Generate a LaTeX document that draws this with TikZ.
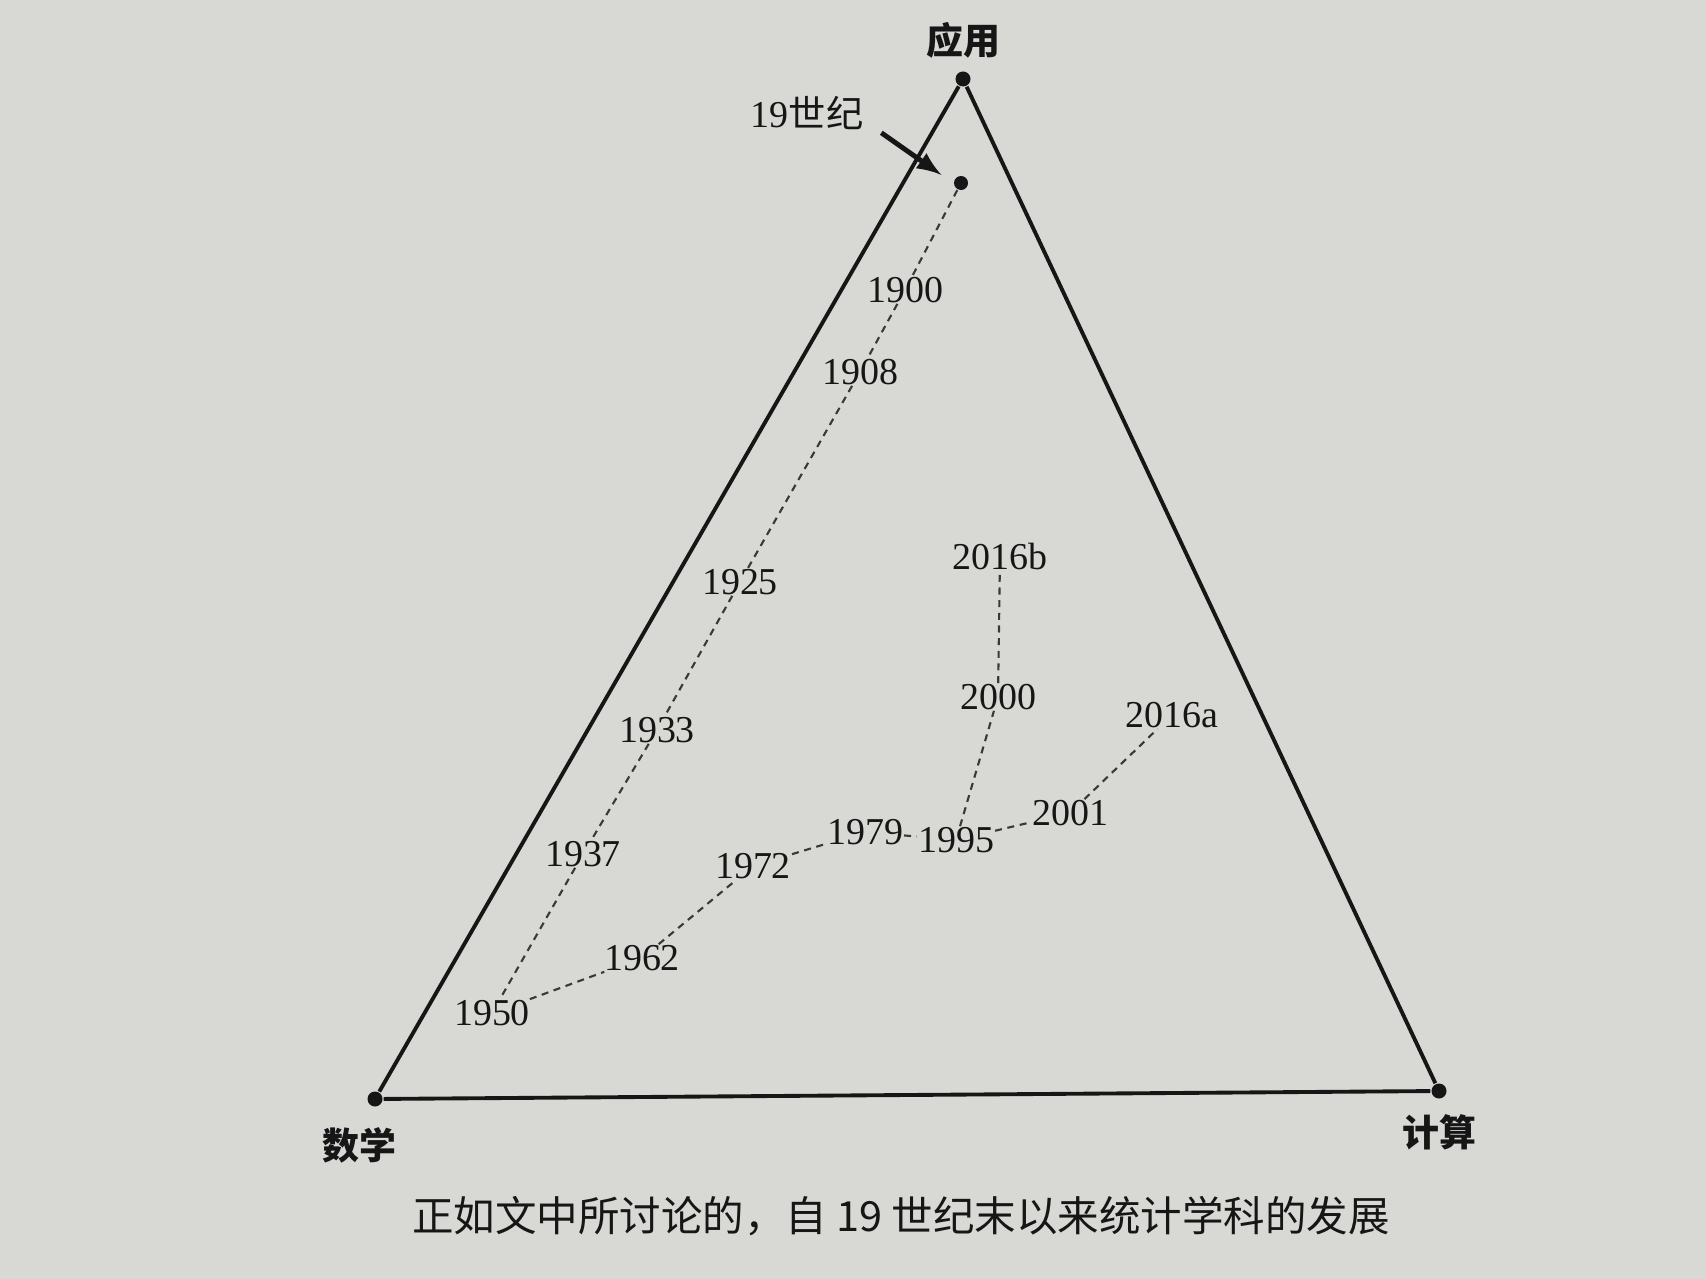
\documentclass[tikz,border=0pt]{standalone}
\usepackage{fontspec}
\setmainfont{Liberation Serif}
\newfontfamily\cjk{Noto Sans CJK SC}
\usetikzlibrary{positioning}
\definecolor{papel}{RGB}{216,216,213}
\definecolor{tinta}{RGB}{22,22,22}

\begin{document}
\begin{tikzpicture}[x=0.01cm, y=-0.01cm, semithick,
            vertice/.style ={circle, fill=tinta, inner sep=0pt, minimum size=0.15cm},
            anio/.style ={inner sep=0pt, text=tinta, font=\fontsize{10.8}{13}\selectfont},
            eje/.style ={inner sep=0pt, text=tinta, font=\cjk\bfseries\fontsize{10.5}{12}\selectfont},
            lado/.style ={draw=tinta, line width=1.1pt},
            traza/.style ={draw=tinta!85, line width=0.6pt, dash pattern=on 2pt off 1.6pt},
            flecha/.style ={-latex, draw=tinta, line width=1.4pt, shorten >=4pt}]

        \useasboundingbox (0,0) rectangle (1706,1279);
        \fill[papel] (0,0) rectangle (1706,1279);

        %\node [estilo] (nombre) at (x,y) {};  -- y crece hacia abajo

        \node[vertice] (Ap) at (963, 79) {};
        \node[vertice] (Ma) at (375, 1099) {};
        \node[vertice] (Co) at (1439, 1091) {};

        \node[eje] (tAp) at (963, 40) {应用};
        \node[eje] (tMa) at (359, 1145) {数学};
        \node[eje] (tCo) at (1439, 1132) {计算};

        \node[vertice, minimum size=0.14cm] (S19) at (961, 183) {};
        \node[anio] (t19) at (807, 113) {19{\cjk\fontsize{10.6}{12}\selectfont 世纪}};

        \node[anio] (a1900) at (905, 290) {1900};
        \node[anio] (a1908) at (860, 372) {1908};
        \node[anio] (a1925) at (740, 582) {1925};
        \node[anio] (a1933) at (657, 730) {1933};
        \node[anio] (a1937) at (583, 854) {1937};
        \node[anio] (a1950) at (492, 1013) {1950};
        \node[anio] (a1962) at (642, 958) {1962};
        \node[anio] (a1972) at (753, 866) {1972};
        \node[anio] (a1979) at (865, 832) {1979};
        \node[anio] (a1995) at (956, 840) {1995};
        \node[anio] (a2000) at (998, 697) {2000};
        \node[anio] (a2016b) at (1000, 557) {2016b};
        \node[anio] (a2001) at (1070, 813) {2001};
        \node[anio] (a2016a) at (1172, 715) {2016a};

        \node[text=tinta, font=\cjk\fontsize{11.8}{14}\selectfont] (pie) at (901, 1216)
            {正如文中所讨论的，自 19 世纪末以来统计学科的发展};

        %%--------------------------lados----------------------------

        \path (Ap) edge[lado] (Ma);
        \path (Ma) edge[lado] (Co);
        \path (Co) edge[lado] (Ap);

        %%--------------------------trayecto--------------------------

        \path (S19) edge[traza] (a1900);
        \path (a1900) edge[traza] (a1908);
        \path (a1908) edge[traza] (a1925);
        \path (a1925) edge[traza] (a1933);
        \path (a1933) edge[traza] (a1937);
        \path (a1937) edge[traza] (a1950);
        \path (a1950) edge[traza] (a1962);
        \path (a1962) edge[traza] (a1972);
        \path (a1972) edge[traza] (a1979);
        \path (a1979) edge[traza] (a1995);
        \path (a1995) edge[traza] (a2000);
        \path (a2000) edge[traza] (a2016b);
        \path (a1995) edge[traza] (a2001);
        \path (a2001) edge[traza] (a2016a);

        \path ([shift={(17,2)}]t19.south east) edge[flecha] (S19.west);

    \end{tikzpicture}
\end{document}
